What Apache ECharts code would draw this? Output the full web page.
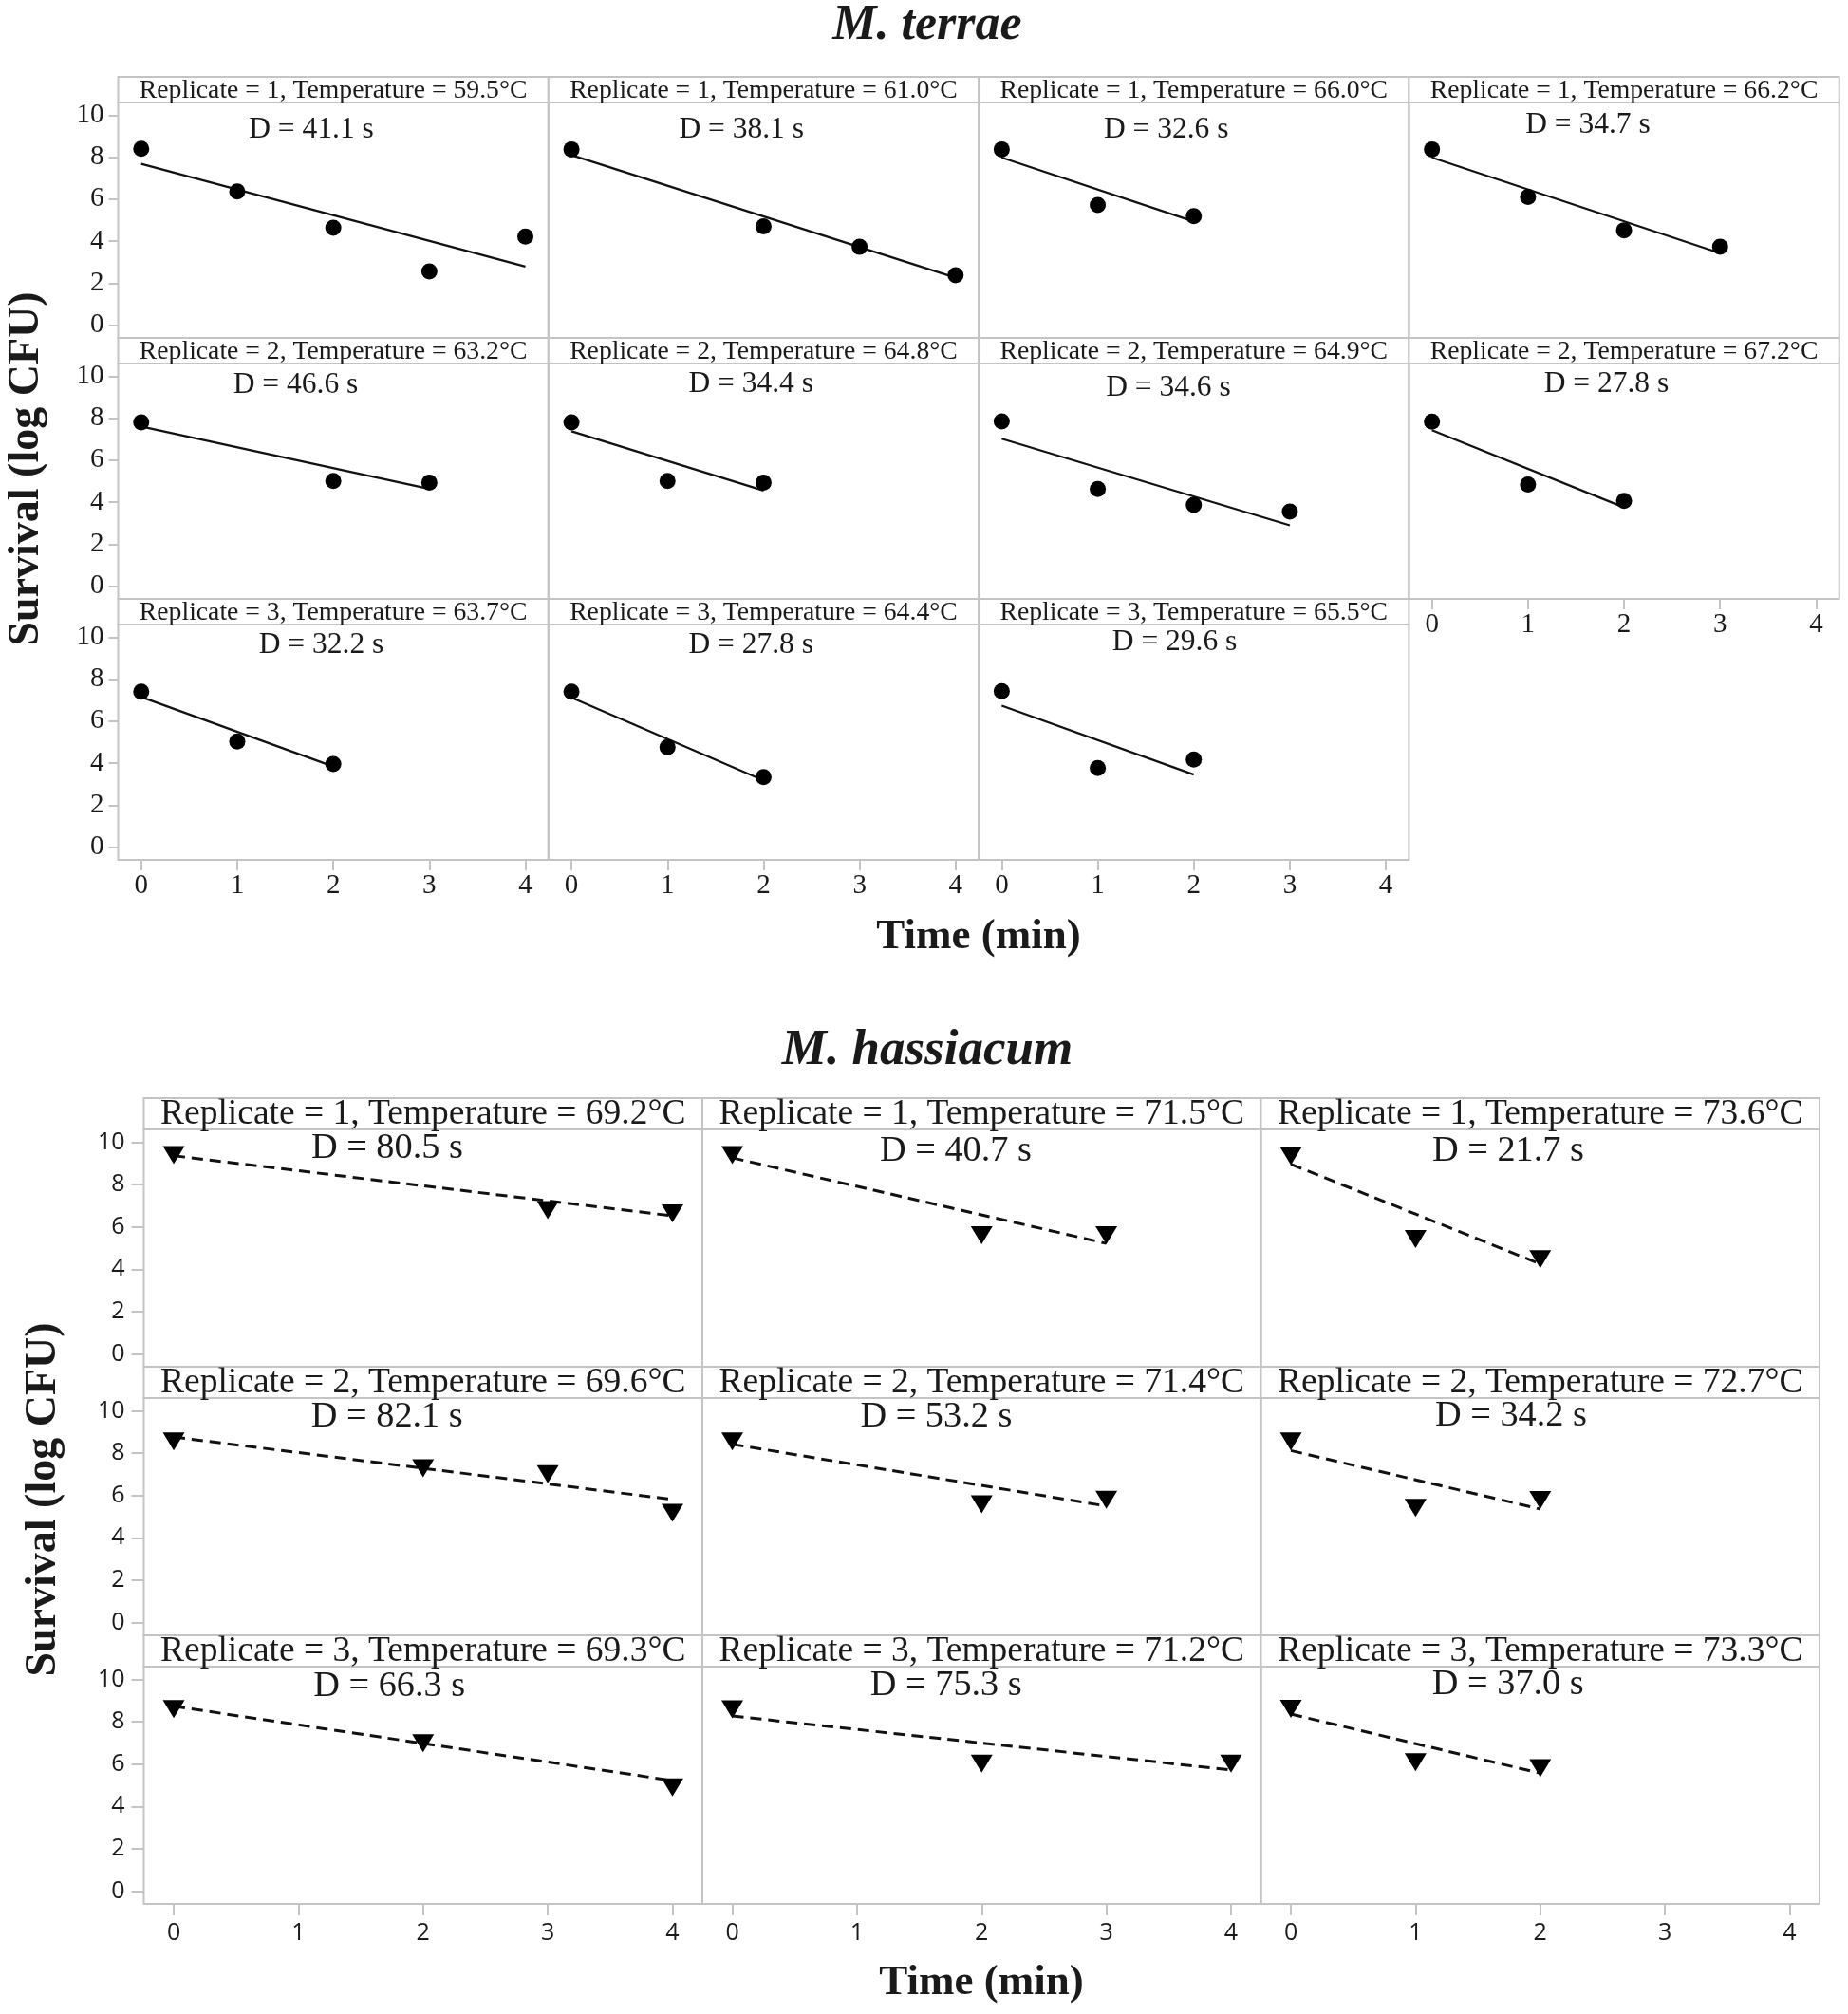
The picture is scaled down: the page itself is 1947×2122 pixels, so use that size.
<!DOCTYPE html>
<html><head><meta charset="utf-8">
<script src="https://cdn.jsdelivr.net/npm/echarts@6/dist/echarts.min.js"></script>
<style>html,body{margin:0;padding:0;background:#fff}#c{width:1947px;height:2122px}</style>
</head><body><div id="c"></div>
<script>
// ---------- data ----------
const timeTicks = [0, 1, 2, 3, 4];
const survivalTicks = [0, 2, 4, 6, 8, 10];

// M. terrae
const terraeReplicate = [1, 1, 1, 1, 2, 2, 2, 2, 3, 3, 3];
const terraeTemperature = ['59.5', '61.0', '66.0', '66.2', '63.2', '64.8', '64.9', '67.2', '63.7', '64.4', '65.5'];
const terraeD = ['41.1', '38.1', '32.6', '34.7', '46.6', '34.4', '34.6', '27.8', '32.2', '27.8', '29.6'];
const terraeTime = [[0,1,2,3,4],[0,2,3,4],[0,1,2],[0,1,2,3],[0,2,3],[0,1,2],[0,1,2,3],[0,1,2],[0,1,2],[0,1,2],[0,1,2]];
const terraeSurvival = [[8.40,6.37,4.64,2.56,4.22],[8.37,4.71,3.73,2.38],[8.37,5.72,5.19],[8.37,6.11,4.52,3.74],
  [7.80,5.01,4.93],[7.80,5.01,4.93],[7.84,4.63,3.87,3.56],[7.83,4.84,4.06],[7.40,5.03,3.96],[7.40,4.76,3.34],[7.43,3.77,4.18]];
const terraeFitStart = [7.68, 8.10, 7.98, 7.98, 7.60, 7.38, 7.02, 7.43, 7.15, 7.12, 6.74];
const terraeFitEnd = [2.79, 2.26, 4.94, 3.43, 4.63, 4.55, 2.90, 3.75, 3.84, 3.18, 3.46];

// M. hassiacum
const hassiacumReplicate = [1, 1, 1, 2, 2, 2, 3, 3, 3];
const hassiacumTemperature = ['69.2', '71.5', '73.6', '69.6', '71.4', '72.7', '69.3', '71.2', '73.3'];
const hassiacumD = ['80.5', '40.7', '21.7', '82.1', '53.2', '34.2', '66.3', '75.3', '37.0'];
const hassiacumTime = [[0,3,4],[0,2,3],[0,1,2],[0,2,3,4],[0,2,3],[0,1,2],[0,2,4],[0,2,4],[0,1,2]];
const hassiacumSurvival = [[9.39,6.79,6.64],[9.39,5.60,5.60],[9.35,5.43,4.47],[8.55,7.28,7.00,5.18],[8.55,5.58,5.79],
  [8.55,5.41,5.78],[8.59,6.98,4.90],[8.58,6.02,6.02],[8.61,6.09,5.81]];
const hassiacumFitStart = [9.36, 9.26, 8.96, 8.76, 8.42, 8.12, 8.73, 8.27, 8.36];
const hassiacumFitEnd = [6.52, 5.22, 4.25, 5.81, 5.50, 5.36, 5.22, 5.72, 5.57];

// ---------- layout / style ----------
const SERIF = "'Liberation Serif','Times New Roman',serif";
const SANS = "'Open Sans','Liberation Sans',sans-serif";
const GRAY = '#c4c4c4';
const INK = '#1a1a1a';

const sections = [
  { title: 'M. terrae', rep: terraeReplicate, temp: terraeTemperature, D: terraeD, time: terraeTime,
    surv: terraeSurvival, fs: terraeFitStart, fe: terraeFitEnd,
    L: { left: 124.5, colW: 453.3, top: 81, rowPitch: 275, stripH: 27, plotH: 248, cols: 4,
      stripFont: 27.7, dFont: 31.5, tickFont: 29, tickFamily: SERIF, yMargin: 15, yTickLen: 10, xMargin: 13, xTickLen: 11,
      titleX: 977, titleY: 28, yNameX: 28, yNameY: 494, xNameX: 1031, xNameY: 987, titleFont: 52,
      symbol: 'circle', symbolSize: 17, symbolRotate: 0, lineType: 'solid', lineWidth: 2.3,
      dPos: [[203.5,28.7],[203.4,28.7],[197.6,28.7],[188.5,23.7],[187,23],[213.4,21.5],[199.8,25.7],[208,21.4],[214,22],[213.4,22],[206.5,18.7]] } },
  { title: 'M. hassiacum', rep: hassiacumReplicate, temp: hassiacumTemperature, D: hassiacumD, time: hassiacumTime,
    surv: hassiacumSurvival, fs: hassiacumFitStart, fe: hassiacumFitEnd,
    L: { left: 151.5, colW: 588.5, top: 1157, rowPitch: 283, stripH: 33, plotH: 250, cols: 3,
      stripFont: 37.5, dFont: 38.3, tickFont: 25, tickFamily: SANS, yMargin: 20, yTickLen: 13, xMargin: 18, xTickLen: 12,
      titleX: 977, titleY: 1107, yNameX: 46, yNameY: 1580, xNameX: 1034, xNameY: 2089, titleFont: 53,
      symbol: 'triangle', symbolSize: [23, 19], symbolRotate: 180, lineType: [12, 7], lineWidth: 3,
      dPos: [[256.4,20],[267,23.3],[260.5,23.3],[256.3,20.3],[246.4,19.5],[263.5,18.7],[258.7,21],[256.8,19.5],[260.3,19]] } }
];

const grid = [], xAxis = [], yAxis = [], series = [], graphic = [];

function txt(x, y, text, font, extra) {
  return Object.assign({ type: 'text', x: x, y: y, z: 100, silent: true,
    style: { text: text, font: font, fill: INK, textAlign: 'center', textVerticalAlign: 'middle', align: 'center', verticalAlign: 'middle' } }, extra || {});
}

sections.forEach(function (S) {
  const L = S.L;
  const n = S.time.length;
  for (let i = 0; i < n; i++) {
    const r = Math.floor(i / L.cols), c = i % L.cols;
    const left = L.left + c * L.colW;
    const stripTop = L.top + r * L.rowPitch;
    const plotTop = stripTop + L.stripH;
    const gi = grid.length;
    const showX = (i + L.cols >= n);
    const showY = (c === 0);
    grid.push({ left: left, top: plotTop, width: L.colW, height: L.plotH, show: true,
      borderColor: GRAY, borderWidth: 2, backgroundColor: 'transparent' });
    xAxis.push({ type: 'value', gridIndex: gi, min: -0.24, max: 4.24, position: 'bottom',
      axisLine: { show: false, onZero: false }, splitLine: { show: false },
      axisTick: { show: showX, customValues: timeTicks, length: L.xTickLen, lineStyle: { color: GRAY, width: 2 } },
      axisLabel: { show: showX, customValues: timeTicks, margin: L.xMargin, color: INK,
        fontFamily: L.tickFamily, fontSize: L.tickFont } });
    yAxis.push({ type: 'value', gridIndex: gi, min: -0.6, max: 10.6, position: 'left',
      axisLine: { show: false, onZero: false }, splitLine: { show: false },
      axisTick: { show: showY, customValues: survivalTicks, length: L.yTickLen, lineStyle: { color: GRAY, width: 2 } },
      axisLabel: { show: showY, customValues: survivalTicks, margin: L.yMargin, color: INK,
        fontFamily: L.tickFamily, fontSize: L.tickFont } });
    const pts = S.time[i].map(function (t, k) { return [t, S.surv[i][k]]; });
    const tEnd = S.time[i][S.time[i].length - 1];
    series.push({ type: 'line', xAxisIndex: gi, yAxisIndex: gi, data: [[0, S.fs[i]], [tEnd, S.fe[i]]],
      showSymbol: false, symbol: 'none', silent: true, z: 2,
      lineStyle: { color: '#111', width: L.lineWidth, type: L.lineType } });
    series.push({ type: 'scatter', xAxisIndex: gi, yAxisIndex: gi, data: pts, z: 3,
      symbol: L.symbol, symbolSize: L.symbolSize, symbolRotate: L.symbolRotate,
      itemStyle: { color: '#000', opacity: 1 } });
    // strip header
    graphic.push({ type: 'rect', z: 90, silent: true,
      shape: { x: left, y: stripTop, width: L.colW, height: L.stripH },
      style: { fill: '#fff', stroke: GRAY, lineWidth: 2 } });
    graphic.push(txt(left + L.colW / 2, stripTop + L.stripH / 2 + 1,
      'Replicate = ' + S.rep[i] + ', Temperature = ' + S.temp[i] + '°C', L.stripFont + 'px ' + SERIF));
    // D label
    graphic.push(txt(left + L.dPos[i][0], plotTop + L.dPos[i][1], 'D = ' + S.D[i] + ' s', L.dFont + 'px ' + SERIF));
  }
  graphic.push(txt(L.titleX, L.titleY, S.title, 'italic bold ' + L.titleFont + 'px ' + SERIF));
  graphic.push(txt(L.yNameX, L.yNameY, 'Survival (log CFU)', 'bold 46px ' + SERIF, { rotation: Math.PI / 2 }));
  graphic.push(txt(L.xNameX, L.xNameY, 'Time (min)', 'bold 45px ' + SERIF));
});

const chart = echarts.init(document.getElementById('c'), null, { renderer: 'canvas' });
chart.setOption({ animation: false, backgroundColor: '#fff', grid: grid, xAxis: xAxis, yAxis: yAxis, series: series, graphic: graphic });
</script>
</body></html>
